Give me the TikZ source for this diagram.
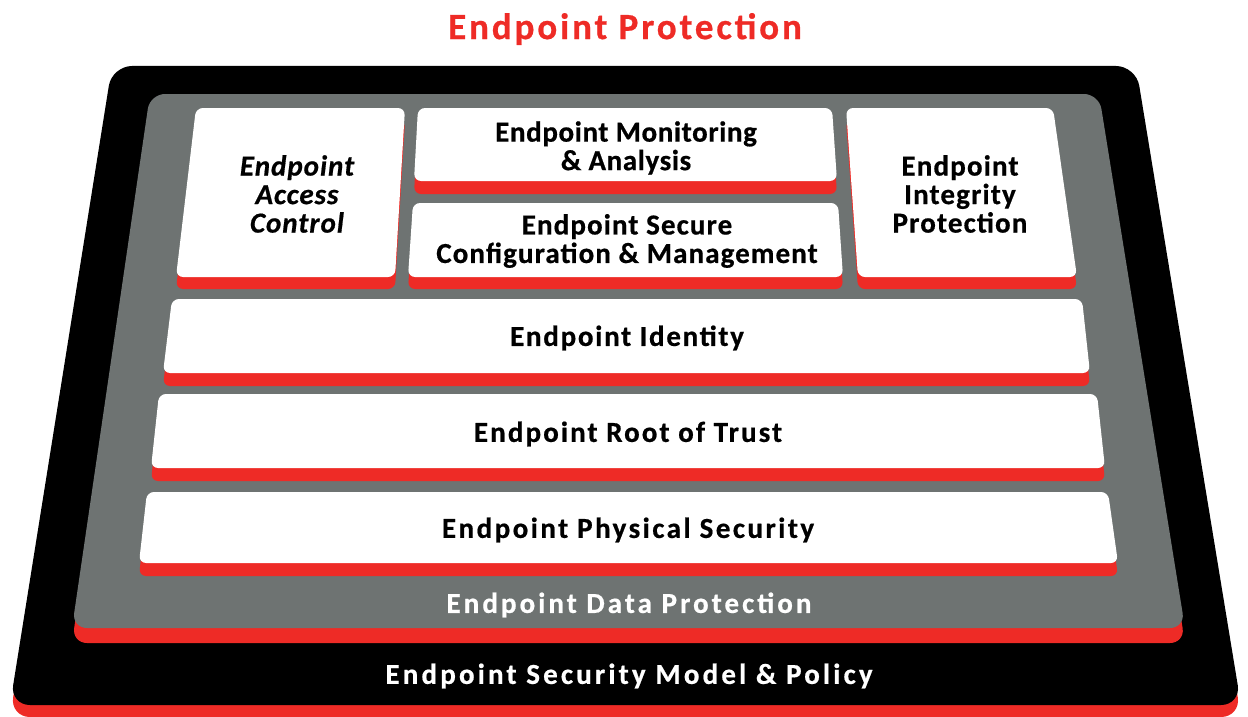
\documentclass[tikz,border=0pt]{standalone}
\usepackage{fontspec}
\setmainfont{Carlito}
\definecolor{epred}{RGB}{238,43,38}
\definecolor{epgray}{RGB}{110,115,114}
\newcommand{\trk}[1]{\addfontfeature{LetterSpace=#1,FakeBold=0.6}}
\tikzset{
  boxtext/.style={align=center, text=black, font=\bfseries\fontsize{29}{28.5}\selectfont\trk{#1}, inner sep=0pt},
  itboxtext/.style={align=center, text=black, font=\bfseries\itshape\fontsize{29}{28.5}\selectfont\trk{#1}, inner sep=0pt},
  bandtext/.style={align=center, text=white, font=\bfseries\fontsize{29}{28.5}\selectfont\trk{#1}, inner sep=0pt},
  titletext/.style={align=center, text=epred, font=\bfseries\fontsize{37}{40}\selectfont\trk{#1}, inner sep=0pt},
  slab/.style={fill=white, rounded corners=7pt},
  slabred/.style={fill=epred, rounded corners=7pt}
}
\begin{document}
\begin{tikzpicture}[x=1pt,y=-1pt]
\useasboundingbox (0,0) rectangle (1248,717);
% outer black frame
\fill[epred, rounded corners=20pt, yshift=-12pt] (112,66) -- (1136,66) -- (1241,705) -- (10,705) -- cycle;
\fill[black, rounded corners=20pt] (112,66) -- (1136,66) -- (1241,705) -- (10,705) -- cycle;
% gray frame
\fill[epred, rounded corners=15pt, yshift=-15pt] (150,94) -- (1099,94) -- (1185,628) -- (72,628) -- cycle;
\fill[epgray, rounded corners=15pt] (150,94) -- (1099,94) -- (1185,628) -- (72,628) -- cycle;
% access control
\fill[slabred, yshift=-12pt] (196,108) -- (405,108) -- (395,277) -- (176,277) -- cycle;
\fill[slab] (196,108) -- (405,108) -- (395,277) -- (176,277) -- cycle;
% monitoring
\fill[slabred, yshift=-13pt] (418,108) -- (832,108) -- (837,181) -- (414,181) -- cycle;
\fill[slab] (418,108) -- (832,108) -- (837,181) -- (414,181) -- cycle;
% secure config
\fill[slabred, yshift=-12pt] (413,203) -- (838,203) -- (843,277) -- (408,277) -- cycle;
\fill[slab] (413,203) -- (838,203) -- (843,277) -- (408,277) -- cycle;
% integrity
\fill[slabred, yshift=-12pt] (846,108) -- (1053,108) -- (1077,277) -- (858,277) -- cycle;
\fill[slab] (846,108) -- (1053,108) -- (1077,277) -- (858,277) -- cycle;
% identity
\fill[slabred, yshift=-13pt] (172,299) -- (1082,299) -- (1090,373) -- (163,373) -- cycle;
\fill[slab] (172,299) -- (1082,299) -- (1090,373) -- (163,373) -- cycle;
% root of trust
\fill[slabred, yshift=-13pt] (159,394) -- (1097,394) -- (1105,468) -- (151,468) -- cycle;
\fill[slab] (159,394) -- (1097,394) -- (1105,468) -- (151,468) -- cycle;
% physical
\fill[slabred, yshift=-13pt] (147,492) -- (1108,492) -- (1118,563) -- (139,563) -- cycle;
\fill[slab] (147,492) -- (1108,492) -- (1118,563) -- (139,563) -- cycle;
% texts
\node[titletext=7.8] (title) at (625,29) {Endpoint Protection};
\node[itboxtext=3.4] (access) at (297,194) {Endpoint\\Access\\Control};
\node[boxtext=2.1] (monitor) at (626,148) {Endpoint Monitoring\\\& Analysis};
\node[boxtext=3.8] (secure) at (627,241) {Endpoint Secure\\Configuration \& Management};
\node[boxtext=4] (integrity) at (960,194) {Endpoint\\Integrity\\Protection};
\node[boxtext=6] (identity) at (627,338) {Endpoint Identity};
\node[boxtext=7.2] (root) at (628,434) {Endpoint Root of Trust};
\node[boxtext=8.5] (physical) at (628,530) {Endpoint Physical Security};
\node[bandtext=10.5] (data) at (629,605) {Endpoint Data Protection};
\node[bandtext=10.9] (model) at (629,676) {Endpoint Security Model \& Policy};
\end{tikzpicture}
\end{document}
